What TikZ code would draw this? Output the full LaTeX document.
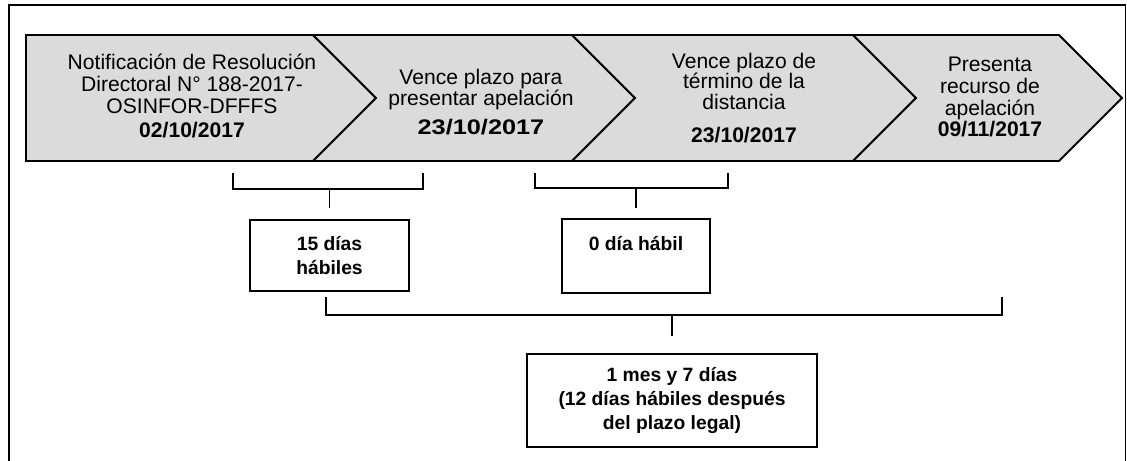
\documentclass[tikz,border=0pt]{standalone}
\usepackage{fontspec}
\setmainfont{Liberation Sans}
\usepackage{graphicx}
\tikzset{
  etapa/.style={draw, line width=1.4pt, fill=black!14, line join=miter},
  texto/.style={align=center, inner sep=0pt, font=\fontsize{15}{15.6}\selectfont},
  caja/.style={draw, line width=1.1pt, align=center, inner sep=0pt, font=\bfseries\fontsize{13.7}{17.4}\selectfont},
  llave/.style={line width=0.8pt}
}
\begin{document}
\begin{tikzpicture}[x=0.025cm, y=-0.025cm]
        \useasboundingbox (0,0) rectangle (1127,461); %Delimitador de imagen
        \draw[line width=2pt] (9,461) -- (9,5) -- (1125.5,5); %marco
        \draw[line width=0.8pt] (1125.5,5) -- (1125.5,461); %marco derecho
        \draw[etapa] (26,35) -- (313,35) -- (376,98) -- (313,161) -- (26,161) -- cycle; %etapa 1
        \draw[etapa] (313,35) -- (572,35) -- (635,98) -- (572,161) -- (313,161) -- (376,98) -- cycle; %etapa 2
        \draw[etapa] (572,35) -- (853,35) -- (916,98) -- (853,161) -- (572,161) -- (635,98) -- cycle; %etapa 3
        \draw[etapa] (853,35) -- (1059,35) -- (1122,98) -- (1059,161) -- (853,161) -- (916,98) -- cycle; %etapa 4
        \node[texto] (notif) at (192,96) {Notificación de Resolución\\Directoral N° 188-2017-\\OSINFOR-DFFFS\\[1pt]\textbf{02/10/2017}}; %texto etapa 1
        \node[texto, font=\fontsize{15}{14}\selectfont] (vence) at (481,102) {Vence plazo para\\presentar apelación\\[7pt]\scalebox{1.2}[1]{\textbf{23/10/2017}}}; %texto etapa 2
        \node[texto, font=\fontsize{15}{14.6}\selectfont] (distancia) at (744,98) {Vence plazo de\\término de la\\distancia\\[9pt]\textbf{23/10/2017}}; %texto etapa 3
        \node[texto] (recurso) at (990,97) {Presenta\\recurso de\\apelación\\\textbf{09/11/2017}}; %texto etapa 4
        \node[caja, minimum width=3.975cm, minimum height=1.775cm] (quince) at (329.5,255.5) {15 días\\hábiles}; %caja plazo legal
        \node[caja, minimum width=3.7cm, minimum height=1.85cm] (cero) at (636,256) {0 día hábil\\\mbox{}}; %caja termino de la distancia
        \node[caja, minimum width=7.25cm, minimum height=2.325cm] (total) at (672,400.5) {1 mes y 7 días\\(12 días hábiles después\\del plazo legal)}; %caja total
        \coordinate (l1a) at (233,173); \coordinate (l1b) at (423,173);
        \draw[llave] (l1a) -- ++(0,16) -| (l1b); %llave 1
        \draw[llave] (quince.north) ++(0,-11) -- ++(0,-20);
        \coordinate (l2a) at (535,173); \coordinate (l2b) at (728,173);
        \draw[llave] (l2a) -- ++(0,15) -| (l2b); %llave 2
        \draw[llave] (cero.north) ++(0,-10) -- ++(0,-21);
        \coordinate (l3a) at (326,297); \coordinate (l3b) at (1002,297);
        \draw[llave] (l3a) -- ++(0,18) -| (l3b); %llave total
        \draw[llave] (total.north) ++(0,-17) -- ++(0,-22);
\end{tikzpicture}
\end{document}
